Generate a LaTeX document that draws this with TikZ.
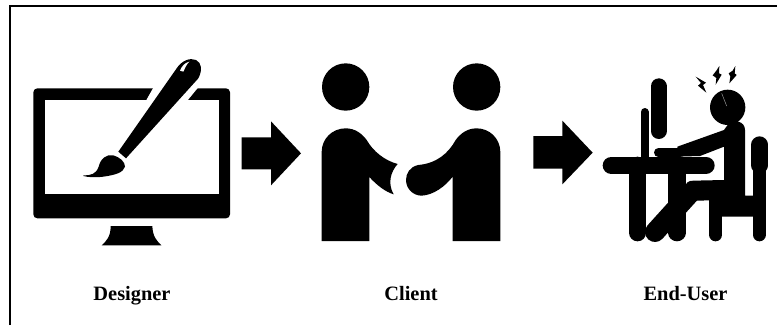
\documentclass[tikz,border=0pt]{standalone}
\usepackage{fontspec}
\setmainfont{Liberation Serif}
\tikzset{
 x=0.75pt,y=-0.75pt,
 ink/.style={fill=black,draw=none},
 frameline/.style={draw=black,line width=1.6pt},
 lab/.style={font=\fontsize{15.3}{18}\selectfont\bfseries,anchor=base,inner sep=0pt},
 zoomA/.style={shift={(20,50)},x=0.25pt,y=-0.25pt},
 zoomB/.style={shift={(300,50)},x=0.25pt,y=-0.25pt},
 zoomC/.style={shift={(520,50)},x=0.25pt,y=-0.25pt},
 bar/.style={draw=black,line cap=round},
}
\begin{document}
\begin{tikzpicture}
\useasboundingbox (0,0) rectangle (777,325);
\fill[white] (0,0) rectangle (777,325);
\draw[frameline] (9.8,325) -- (9.8,6.2) -- (777,6.2);
% Monitor
\begin{scope}[zoomA]
\fill[ink,rounded corners=3pt] (40,115) rectangle (630,505);
\fill[white] (74,150) rectangle (596,433);
\fill[ink] (272,528) -- (397,528) .. controls (398,560) and (410,572) .. (424,586) -- (245,586) .. controls (260,572) and (272,560) .. (272,528) -- cycle;
\fill[white] (400,113) -- (534,113) -- (502,152) -- (378,152) -- cycle;
\fill[ink] (295,305) -- (470,55) .. controls (485,32) and (510,22) .. (528,30) .. controls (545,38) and (548,60) .. (535,85) -- (318,325) -- cycle;
\fill[white] (480,62) .. controls (485,48) and (495,38) .. (508,35) .. controls (500,42) and (495,55) .. (490,65) -- cycle;
\fill[ink] (190,376) .. controls (215,376) and (228,372) .. (236,350) .. controls (242,325) and (260,312) .. (280,316) .. controls (300,322) and (315,335) .. (315,350) .. controls (310,368) and (285,375) .. (250,380) .. controls (225,383) and (205,382) .. (190,378) -- cycle;
\fill[ink] (665,262) -- (753,262) -- (753,214) -- (843,310) -- (753,406) -- (753,358) -- (665,358) -- cycle;
\end{scope}
% Client
\begin{scope}[zoomB]
\fill[ink] (137,111) circle[radius=71];
\fill[ink] (530,111) circle[radius=71];
\fill[ink] (65,573) -- (65,306) .. controls (65,266) and (97,235) .. (137,235) .. controls (165,235) and (185,250) .. (200,270) .. controls (220,305) and (255,332) .. (293,342) .. controls (272,365) and (262,400) .. (281,433) .. controls (255,425) and (230,405) .. (208,381) -- (208,573) -- cycle;
\fill[ink] (601,573) -- (601,306) .. controls (601,266) and (569,235) .. (530,235) .. controls (502,235) and (482,250) .. (467,270) .. controls (445,310) and (410,340) .. (355,345) .. controls (330,350) and (318,370) .. (318,390) .. controls (318,415) and (338,437) .. (365,437) .. controls (400,435) and (435,410) .. (458,380) -- (458,573) -- cycle;
\end{scope}
% End-user
\begin{scope}[zoomC]
\fill[ink] (40,258) -- (127,258) -- (127,212) -- (218,308) -- (127,403) -- (127,356) -- (40,356) -- cycle;
% desk
\draw[bar,line width=13pt] (274,346) -- (558,346);
\draw[bar,line width=13pt] (353,346) -- (353,548);
\draw[bar,line width=13pt] (471,346) -- (471,548);
% monitor
\draw[bar,line width=12pt] (416,109) -- (416,243);
\draw[bar,line width=6pt] (374,186) -- (374,330);
% keyboard
\draw[bar,line width=6.5pt] (415,308) -- (480,308);
% head
\fill[ink] (623,172) circle[radius=53];
\draw[white!70!black,line width=0.3pt] (605,130) -- (620,168);
% arm and torso
\fill[ink] (472,290) -- (612,240) -- (630,215) -- (655,215) .. controls (668,218) and (675,228) .. (675,240) -- (675,437) -- (700,437) -- (700,500) -- (600,500) -- (600,450) -- (535,452) -- (510,452) -- (497,430) -- (497,410) .. controls (497,398) and (505,392) .. (520,392) -- (612,390) -- (612,290) -- (540,318) -- (472,320) -- cycle;
% shin
\draw[bar,line width=15pt] (405,546) -- (510,430);
% chair
\draw[bar,line width=12.5pt] (719,284) -- (719,346);
\draw[bar,line width=10pt] (718,346) -- (718,554);
\draw[bar,line width=10pt] (587,450) -- (587,554);
% bolts
\fill[ink] (527,80) -- (558,98) -- (549,105) -- (559,128) -- (534,107) -- (543,99) -- cycle;
\fill[ink] (598,48) -- (597,70) -- (605,74) -- (587,104) -- (589,84) -- (578,76) -- (589,62) -- cycle;
\fill[ink] (646,48) -- (644,70) -- (650,75) -- (628,100) -- (631,80) -- (626,70) -- (638,62) -- cycle;
\end{scope}
% labels
\node[lab] (designer) at (132,300.7) {Designer};
\node[lab] (client) at (411,300.7) {Client};
\node[lab] (enduser) at (685.5,300.7) {End-User};
\end{tikzpicture}
\end{document}
